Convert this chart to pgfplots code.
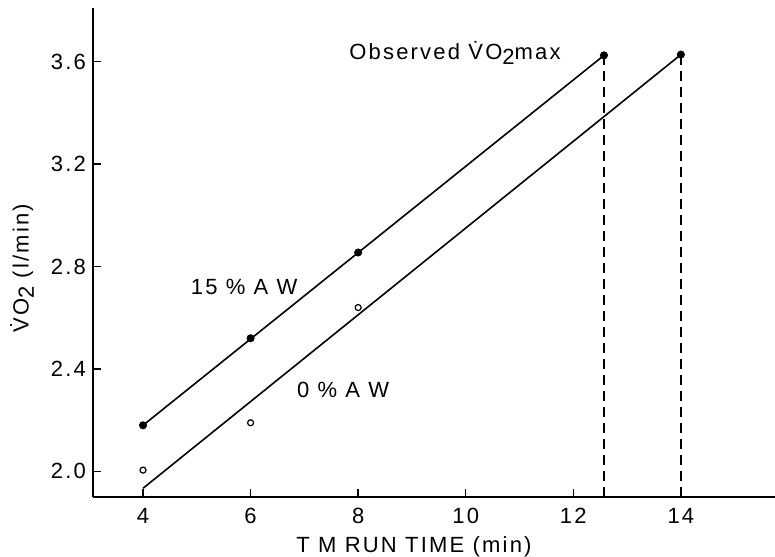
\documentclass[border=0pt]{standalone}
\usepackage{fontspec}
\setmainfont[LetterSpace=10]{Liberation Sans}
\usepackage{pgfplots}
\pgfplotsset{compat=1.18}
\begin{document}
\begin{tikzpicture}[x=1pt,y=1pt]
\begin{axis}[
  at={(0pt,0pt)}, anchor=south west,
  scale only axis,
  width=341pt, height=244.5pt,
  xmin=3.07, xmax=15.75, ymin=1.90, ymax=3.81,
  axis lines*=left,
  axis line style={-, line width=0.9pt},
  tick align=inside,
  major tick length=4pt,
  tick style={line width=0.7pt, black},
  xtick={4,6,8,10,12,14},
  ytick={2.0,2.4,2.8,3.2,3.6},
  yticklabel style={/pgf/number format/fixed, /pgf/number format/fixed zerofill, /pgf/number format/precision=1},
  xticklabel style={yshift=-2pt},
  /pgf/number format/assume math mode=true,
  tick label style={font=\fontsize{11}{13}\selectfont},
  xlabel={T M RUN TIME (min)},
  ylabel={\.{V}O\raisebox{-0.45ex}{2} (l/min)},
  label style={font=\fontsize{11}{13}\selectfont},
  xlabel style={at={(axis description cs:0.5,0)}, anchor=north, yshift=-16pt, xshift=-10pt},
  ylabel style={at={(axis description cs:0,0.468)}, anchor=south, yshift=26pt},
  clip=false,
]
% fitted lines
\addplot[black, line width=0.8pt] coordinates {(4,2.18) (12.57,3.625)};
\addplot[black, line width=0.8pt] coordinates {(4,1.934) (14,3.628)};
% dashed verticals
\addplot[black, line width=0.9pt, dash pattern=on 5pt off 3pt] coordinates {(12.57,3.625) (12.57,1.90)};
\addplot[black, line width=0.9pt, dash pattern=on 5pt off 3pt] coordinates {(14,3.628) (14,1.90)};
% 15% AW (filled)
\addplot[only marks, mark=*, mark size=1.8pt, black] coordinates {(4,2.18) (6,2.52) (8,2.855) (12.57,3.625)};
% 0% AW (open)
\addplot[only marks, mark=o, mark size=1.5pt, black, mark options={line width=0.6pt}] coordinates {(4,2.005) (6,2.19) (8,2.64)};
\addplot[only marks, mark=*, mark size=1.8pt, black] coordinates {(14,3.628)};
\node[font=\fontsize{11}{13}\selectfont] at (axis cs:9.8,3.635) {Observed \.{V}O\raisebox{-0.45ex}{2}max};
\node[font=\fontsize{11}{13}\selectfont] at (axis cs:5.88,2.72) {15 \% A W};
\node[font=\fontsize{11}{13}\selectfont] at (axis cs:7.72,2.32) {0 \% A W};
\end{axis}
\pgfresetboundingbox
\path (-46.5pt,-29.5pt) rectangle (341pt,248.5pt);
\end{tikzpicture}
\end{document}
